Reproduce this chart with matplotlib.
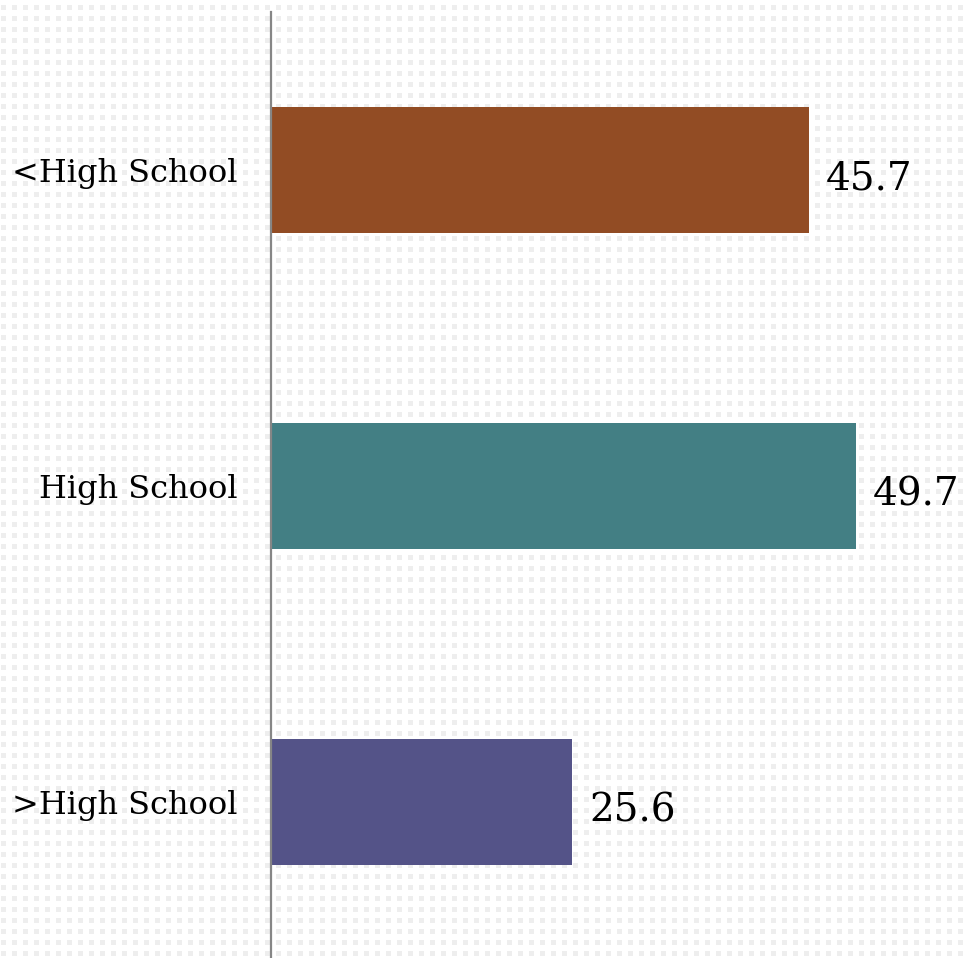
import numpy as np
import matplotlib.pyplot as plt

# Data
categories = ['<High School', 'High School', '>High School']
values = [45.7, 49.7, 25.6]
colors = ['#924c24', '#437f84', '#545388']

W, H = 967, 958
fig = plt.figure(figsize=(W / 100, H / 100), dpi=100)

# dotted background texture on its own full-figure axes
yy, xx = np.mgrid[0:H, 0:W]
bg = np.ones((H, W, 3))
dots = ((xx - 1) % 11 < 5) & ((yy - 5) % 11 < 5)
bg[dots] = 0.935
bgax = fig.add_axes([0, 0, 1, 1], zorder=-1)
bgax.imshow(bg, aspect='auto', interpolation='nearest')
bgax.axis('off')

ax = fig.add_axes([271 / W, -2 / H, 1 - 271 / W, 948 / H])
ax.patch.set_alpha(0)

y = np.arange(len(categories))
bars = ax.barh(y, values, height=0.4, color=colors, zorder=2)

ax.set_ylim(2.5, -0.5)
ax.set_xlim(0, 59.1)

# value labels sit a touch below bar centre, like the original
for b, v in zip(bars, values):
    ax.text(b.get_width() + 1.4, b.get_y() + b.get_height() / 2 + 0.03, f'{v:.1f}',
            va='center', ha='left', fontsize=28, family='DejaVu Serif')

ax.set_yticks(y)
ax.set_yticklabels(categories, fontsize=23, family='DejaVu Serif')
ax.tick_params(axis='y', length=0, pad=24)
ax.set_xticks([])

for side in ['top', 'right', 'bottom']:
    ax.spines[side].set_visible(False)
ax.spines['left'].set_color('#868686')
ax.spines['left'].set_linewidth(1.6)

fig.savefig('out.png', dpi=100)
